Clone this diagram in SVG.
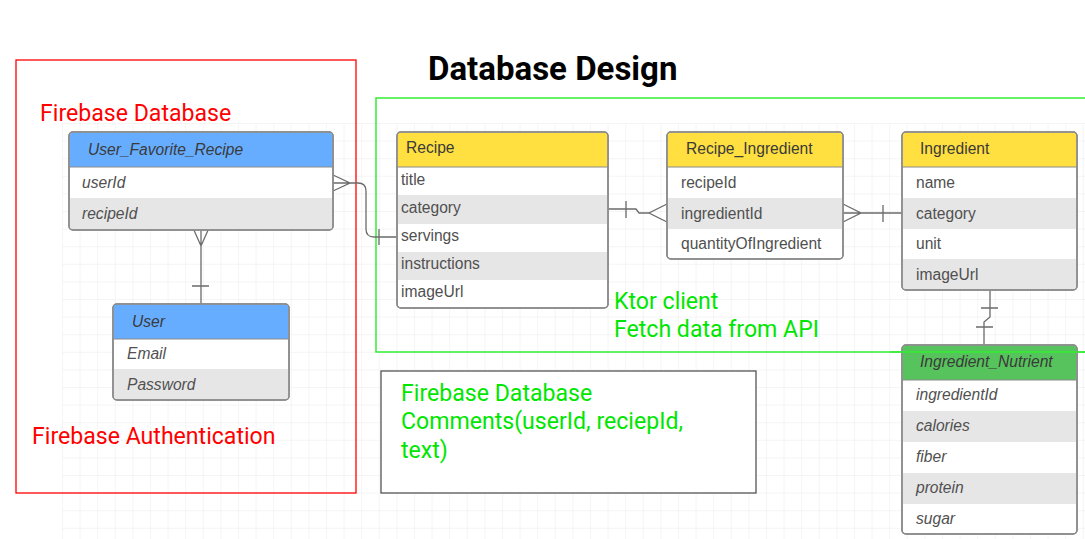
<svg xmlns="http://www.w3.org/2000/svg" width="1085" height="539" viewBox="0 0 1085 539">
<defs>
<pattern id="grid" x="62" y="123" width="17.6" height="17.6" patternUnits="userSpaceOnUse">
<path d="M0 0V17.6M0 0H17.6" fill="none" stroke="#ececec" stroke-width="1"/>
</pattern>
</defs>
<style>
.tbl{fill:#fff;stroke:#8a8a8a;stroke-width:1.5}
.hdrY{fill:#ffe040}
.hdrB{fill:#66adff}
.hdrG{fill:#57c35c}
.alt{fill:#e6e6e6}
.sep{stroke:#8a8a8a;stroke-width:1}
.ht{font-family:"Liberation Sans",Arial,sans-serif;font-size:15.6px;fill:#3a3a3a}
.rt{font-family:"Liberation Sans",Arial,sans-serif;font-size:15.6px;fill:#505050}
.it{font-style:italic}
.lbl{font-family:Roboto,"Liberation Sans",sans-serif;font-size:23.1px}
.red{fill:#ff0000}
.grn{fill:#00e600}
.conn{fill:none;stroke:#6b6b6b;stroke-width:1.3}
</style>
<rect width="1085" height="539" fill="#fff"/>
<rect x="62" y="123" width="1023" height="416" fill="url(#grid)"/>

<g id="title"><text x="428" y="80" font-family="Roboto,'Liberation Sans',sans-serif" font-size="33" font-weight="bold" fill="#000">Database Design</text></g>

<g id="firebase-zone">
<rect x="16" y="60" width="340" height="433" fill="none" stroke="#ff0000" stroke-width="1.3"/>
<text class="lbl red" x="40" y="121">Firebase Database</text>
<text class="lbl red" x="32" y="444">Firebase Authentication</text>
</g>

<g id="ktor-zone">
<path d="M1090 98H376V352H1090" fill="none" stroke="#33ee33" stroke-width="1.5"/>
<text class="lbl grn" x="614" y="309">Ktor client</text>
<text class="lbl grn" x="614" y="337">Fetch data from API</text>
</g>

<g id="connectors">
<path class="conn" d="M201 230V304M193 228L201 246L209 228M192 286H209"/>
<path class="conn" d="M333 183H358Q366 183 366 191V229Q366 237 374 237H397M333 175L350 183L333 191M379 229V245"/>
<path class="conn" d="M608 209H636L639 213H649M667 204L649 213L667 222M626 201V218"/>
<path class="conn" d="M843 213H902M843 204L861 213L843 222M883 205V222"/>
<path class="conn" d="M990 290V317L984 322V345M981 308H998M976 327H993"/>
</g>

<g id="user-favorite-recipe">
<rect class="tbl" x="69" y="132" width="264" height="98" rx="4"/>
<path class="hdrB" d="M73 132.8H329Q332.2 132.8 332.2 136V167H69.8V136Q69.8 132.8 73 132.8Z"/>
<rect class="alt" x="69.8" y="198" width="262.4" height="31"/>
<path class="sep" d="M69 167H333"/>
<rect x="69" y="132" width="264" height="98" rx="4" fill="none" stroke="#8a8a8a" stroke-width="1.5"/>
<text class="ht it" x="88" y="155">User_Favorite_Recipe</text>
<text class="rt it" x="82" y="188">userId</text>
<text class="rt it" x="82" y="219">recipeId</text>
</g>

<g id="user">
<rect class="tbl" x="113" y="304" width="176" height="96" rx="4"/>
<path class="hdrB" d="M117 304.8H285Q288.2 304.8 288.2 308V339H113.8V308Q113.8 304.8 117 304.8Z"/>
<rect class="alt" x="113.8" y="369" width="174.4" height="30"/>
<path class="sep" d="M113 339H289"/>
<rect x="113" y="304" width="176" height="96" rx="4" fill="none" stroke="#8a8a8a" stroke-width="1.5"/>
<text class="ht it" x="132" y="327">User</text>
<text class="rt it" x="127" y="359">Email</text>
<text class="rt it" x="127" y="390">Password</text>
</g>

<g id="recipe">
<rect class="tbl" x="397" y="132" width="211" height="176" rx="4"/>
<path class="hdrY" d="M401 132.8H604Q607.2 132.8 607.2 136V167H397.8V136Q397.8 132.8 401 132.8Z"/>
<rect class="alt" x="397.8" y="195" width="209.4" height="29"/>
<rect class="alt" x="397.8" y="252" width="209.4" height="28"/>
<path class="sep" d="M397 167H608"/>
<rect x="397" y="132" width="211" height="176" rx="4" fill="none" stroke="#8a8a8a" stroke-width="1.5"/>
<text class="ht" x="406" y="153">Recipe</text>
<text class="rt" x="401" y="185">title</text>
<text class="rt" x="401" y="213">category</text>
<text class="rt" x="401" y="241">servings</text>
<text class="rt" x="401" y="269">instructions</text>
<text class="rt" x="401" y="297">imageUrl</text>
</g>

<g id="recipe-ingredient">
<rect class="tbl" x="667" y="132" width="176" height="127" rx="4"/>
<path class="hdrY" d="M671 132.8H839Q842.2 132.8 842.2 136V167H667.8V136Q667.8 132.8 671 132.8Z"/>
<rect class="alt" x="667.8" y="198" width="174.4" height="31"/>
<path class="sep" d="M667 167H843"/>
<rect x="667" y="132" width="176" height="127" rx="4" fill="none" stroke="#8a8a8a" stroke-width="1.5"/>
<text class="ht" x="686" y="154">Recipe_Ingredient</text>
<text class="rt" x="681" y="188">recipeId</text>
<text class="rt" x="681" y="219">ingredientId</text>
<text class="rt" x="681" y="249">quantityOfIngredient</text>
</g>

<g id="ingredient">
<rect class="tbl" x="902" y="132" width="175" height="158" rx="4"/>
<path class="hdrY" d="M906 132.8H1073Q1076.2 132.8 1076.2 136V167H902.8V136Q902.8 132.8 906 132.8Z"/>
<rect class="alt" x="902.8" y="198" width="173.4" height="31"/>
<rect class="alt" x="902.8" y="259" width="173.4" height="30"/>
<path class="sep" d="M902 167H1077"/>
<rect x="902" y="132" width="175" height="158" rx="4" fill="none" stroke="#8a8a8a" stroke-width="1.5"/>
<text class="ht" x="920" y="154">Ingredient</text>
<text class="rt" x="916" y="188">name</text>
<text class="rt" x="916" y="219">category</text>
<text class="rt" x="916" y="249">unit</text>
<text class="rt" x="916" y="280">imageUrl</text>
</g>

<g id="ingredient-nutrient">
<rect class="tbl" x="902" y="345" width="175" height="189" rx="4"/>
<path class="hdrG" d="M906 345.8H1073Q1076.2 345.8 1076.2 349V380H902.8V349Q902.8 345.8 906 345.8Z"/>
<rect class="alt" x="902.8" y="411" width="173.4" height="31"/>
<rect class="alt" x="902.8" y="473" width="173.4" height="31"/>
<path class="sep" d="M902 380H1077"/>
<rect x="902" y="345" width="175" height="189" rx="4" fill="none" stroke="#8a8a8a" stroke-width="1.5"/>
<text class="ht it" x="920" y="367">Ingredient_Nutrient</text>
<text class="rt it" x="916" y="400">ingredientId</text>
<text class="rt it" x="916" y="431">calories</text>
<text class="rt it" x="916" y="462">fiber</text>
<text class="rt it" x="916" y="493">protein</text>
<text class="rt it" x="916" y="524">sugar</text>
</g>

<g id="ktor-line-over"><path d="M890 352H1090" stroke="#33ee33" stroke-width="1.5"/></g>

<g id="comments">
<rect x="381" y="371" width="375" height="122" fill="#fff" stroke="#555" stroke-width="1.3"/>
<text class="lbl grn" x="401" y="401">Firebase Database</text>
<text class="lbl grn" x="401" y="429">Comments(userId, reciepId,</text>
<text class="lbl grn" x="401" y="458">text)</text>
</g>
</svg>
